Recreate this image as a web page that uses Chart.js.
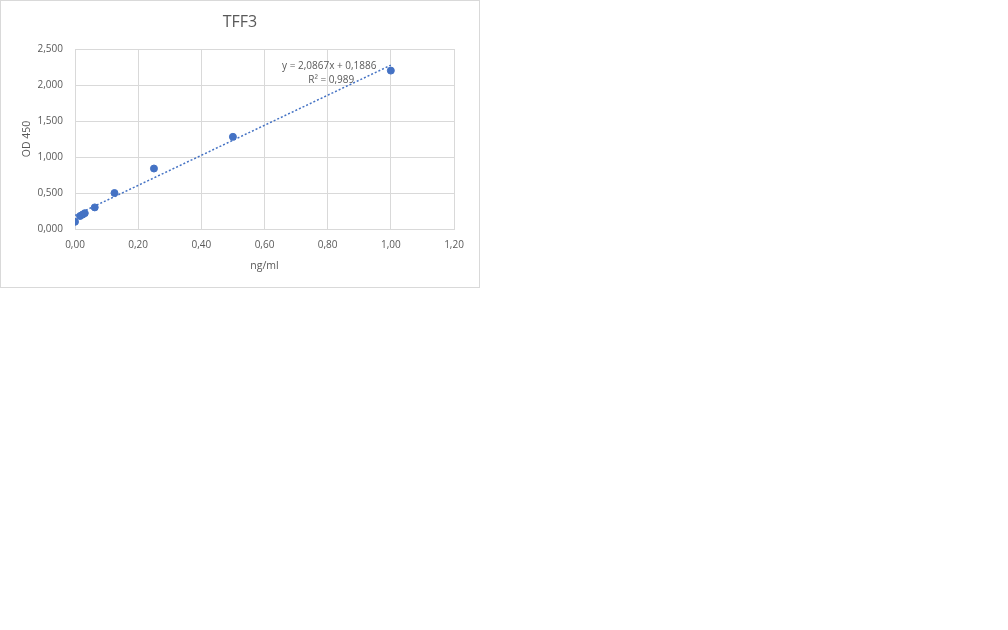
<!DOCTYPE html>
<html>
<head>
<meta charset="utf-8">
<script src="https://cdn.jsdelivr.net/npm/chart.js@4"></script>
<style>
  body { margin: 0; background: #fff; }
  #box { position: absolute; left: 0; top: 0; width: 478px; height: 286px; border: 1px solid #d9d9d9; }
  canvas { display: block; }
</style>
</head>
<body>
<div id="box"><canvas id="tff3Chart" width="478" height="286"></canvas></div>
<script>
// Wartości (stężenie w ng/ml i OD 450)
const concentrations = [0, 0.016, 0.024, 0.031, 0.0625, 0.125, 0.25, 0.5, 1.0];
const odValues = [0.10, 0.18, 0.20, 0.22, 0.30, 0.50, 0.84, 1.28, 2.20];

// Linia trendu z etykiety wykresu
const trendSlope = 2.0867;
const trendIntercept = 0.1886;
const trendRange = [0, 1.0];
const trendLabels = ['y = 2,0867x + 0,1886', 'R² = 0,989'];
const chartTitle = 'TFF3';

const textColor = '#595959';
const gridColor = '#d9d9d9';
const pointColor = '#4472c4';

const scatterPoints = concentrations.map((x, i) => ({ x: x, y: odValues[i] }));
const trendPoints = trendRange.map(x => ({ x: x, y: trendSlope * x + trendIntercept }));

const commaFormat = (v, digits) => Number(v).toFixed(digits).replace('.', ',');

// Tytuł wyśrodkowany na całym płótnie + etykieta równania linii trendu
const labelsPlugin = {
    id: 'labels',
    afterDatasetsDraw(chart) {
        const { ctx, scales } = chart;
        ctx.save();
        ctx.fillStyle = textColor;
        ctx.textAlign = 'center';
        ctx.textBaseline = 'middle';

        ctx.font = '16px "Open Sans"';
        ctx.fillText(chartTitle, chart.width / 2, 21);

        const cx = scales.x.getPixelForValue(0.805);
        ctx.font = '10px "Open Sans"';
        ctx.fillText(trendLabels[0], cx, scales.y.getPixelForValue(2.26));
        ctx.fillText(trendLabels[1], cx + 2, scales.y.getPixelForValue(2.07));
        ctx.restore();
    }
};

const ctx = document.getElementById('tff3Chart').getContext('2d');

const tff3Chart = new Chart(ctx, {
    type: 'scatter',
    data: {
        datasets: [{
            label: 'TFF3',
            data: scatterPoints,
            backgroundColor: pointColor,
            borderColor: pointColor,
            pointRadius: 3.5,
            pointHoverRadius: 3.5,
            order: 1
        }, {
            label: 'Trend',
            type: 'line',
            data: trendPoints,
            borderColor: pointColor,
            borderWidth: 1.5,
            borderDash: [2, 2],
            pointRadius: 0,
            fill: false,
            order: 2
        }]
    },
    options: {
        responsive: false,
        animation: false,
        layout: { padding: { left: 0, right: 25, top: 48, bottom: 10 } },
        plugins: {
            legend: { display: false },
            tooltip: { enabled: false },
            title: { display: false }
        },
        scales: {
            x: {
                type: 'linear',
                min: 0,
                max: 1.2,
                ticks: {
                    stepSize: 0.2,
                    color: textColor,
                    font: { family: 'Open Sans', size: 10 },
                    padding: 10,
                    callback: v => commaFormat(v, 2)
                },
                grid: { color: gridColor, drawTicks: false },
                border: { color: gridColor },
                title: {
                    display: true,
                    text: 'ng/ml',
                    color: textColor,
                    font: { family: 'Open Sans', size: 10.5 },
                    padding: { top: 6, bottom: 5 }
                },
                afterFit: scale => { scale.height = 48; }
            },
            y: {
                type: 'linear',
                min: 0,
                max: 2.5,
                ticks: {
                    stepSize: 0.5,
                    color: textColor,
                    font: { family: 'Open Sans', size: 10 },
                    padding: 12,
                    callback: v => commaFormat(v, 3)
                },
                grid: { color: gridColor, drawTicks: false },
                border: { color: gridColor },
                title: {
                    display: true,
                    text: 'OD 450',
                    color: textColor,
                    font: { family: 'Open Sans', size: 10.5 },
                    padding: { top: 20, bottom: 0 }
                },
                afterFit: scale => { scale.width = 74; }
            }
        }
    },
    plugins: [labelsPlugin]
});
</script>
</body>
</html>
